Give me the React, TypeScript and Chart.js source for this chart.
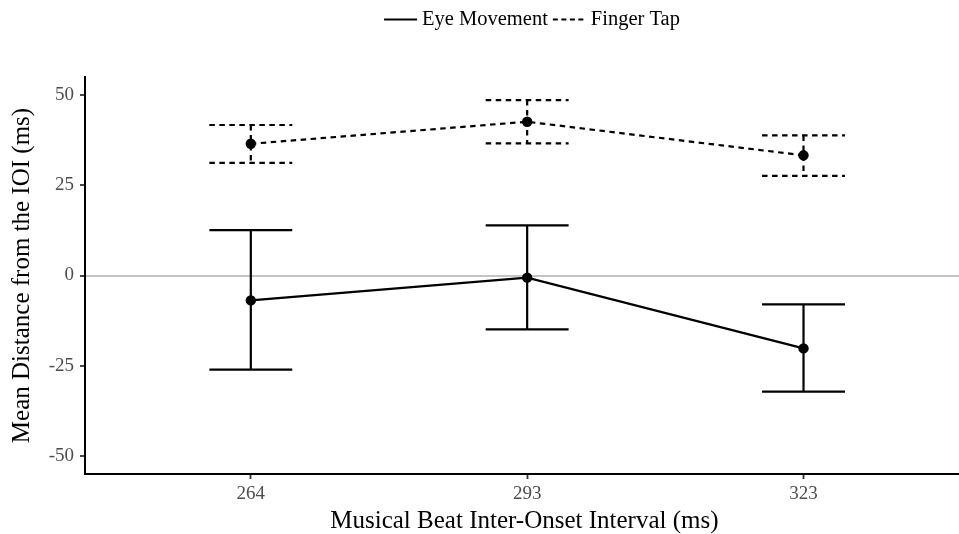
import React, { useEffect, useRef } from 'react';
import { Chart, registerables } from 'chart.js';

Chart.register(...registerables);

const categories = ['264', '293', '323'];
const seriesNames = ['Eye Movement', 'Finger Tap'];
const eyeMean = [-6.9, -0.6, -20.2];
const eyeLower = [-26.1, -14.9, -32.2];
const eyeUpper = [12.6, 13.9, -8.0];
const tapMean = [36.5, 42.6, 33.3];
const tapLower = [31.2, 36.6, 27.6];
const tapUpper = [41.7, 48.6, 38.8];
const yTicks = [-50, -25, 0, 25, 50];

const FONT = '"Liberation Serif", "Times New Roman", serif';
const DASH = [5.5, 4.5];
const lowers = [eyeLower, tapLower];
const uppers = [eyeUpper, tapUpper];
const dashes = [[], DASH];

const errorBarPlugin = {
  id: 'errorBars',
  beforeDatasetsDraw(chart: any) {
    const { ctx, scales } = chart;
    const xs = scales.x;
    const ys = scales.y;
    const half = 0.15;
    chart.data.datasets.forEach((ds: any, di: number) => {
      ctx.save();
      ctx.strokeStyle = '#000';
      ctx.lineWidth = 2.2;
      ctx.setLineDash(dashes[di]);
      lowers[di].forEach((lo: number, i: number) => {
        const hi = uppers[di][i];
        const x = xs.getPixelForValue(i);
        const xl = xs.getPixelForValue(i - half);
        const xr = xs.getPixelForValue(i + half);
        const yl = ys.getPixelForValue(lo);
        const yh = ys.getPixelForValue(hi);
        ctx.beginPath();
        ctx.moveTo(x, yh);
        ctx.lineTo(x, yl);
        ctx.moveTo(xl, yh);
        ctx.lineTo(xr, yh);
        ctx.moveTo(xl, yl);
        ctx.lineTo(xr, yl);
        ctx.stroke();
      });
      ctx.restore();
    });
  },
};

const legendPlugin = {
  id: 'customLegend',
  afterDraw(chart: any) {
    const { ctx } = chart;
    const centerX = 532;
    const y = 19.5;
    const sample = 33;
    const gap = 5;
    const spacing = 5;
    ctx.save();
    ctx.font = `20.5px ${FONT}`;
    const widths = chart.data.datasets.map((d: any) => ctx.measureText(d.label).width);
    let total = 0;
    widths.forEach((w: number, i: number) => {
      total += sample + gap + w + (i < widths.length - 1 ? spacing : 0);
    });
    let x = centerX - total / 2;
    chart.data.datasets.forEach((d: any, i: number) => {
      ctx.strokeStyle = '#000';
      ctx.lineWidth = 2.2;
      ctx.setLineDash(d.borderDash && d.borderDash.length ? [5, 3.5] : []);
      ctx.beginPath();
      ctx.moveTo(x, y);
      ctx.lineTo(x + sample, y);
      ctx.stroke();
      ctx.setLineDash([]);
      x += sample + gap;
      ctx.fillStyle = '#000';
      ctx.textAlign = 'left';
      ctx.textBaseline = 'middle';
      ctx.fillText(d.label, x, y);
      x += widths[i] + spacing;
    });
    ctx.restore();
  },
};

export default function App() {
  const ref = useRef<HTMLCanvasElement | null>(null);
  useEffect(() => {
    document.body.style.margin = '0';
    const canvas = ref.current;
    if (!canvas) return;
    Chart.defaults.font.family = FONT;
    const toPts = (arr: number[]) => arr.map((v, i) => ({ x: i, y: v }));
    const chart = new Chart(canvas, {
      type: 'line',
      data: {
        datasets: [
          {
            label: seriesNames[0],
            data: toPts(eyeMean),
            borderColor: '#000',
            backgroundColor: '#000',
            borderWidth: 2.2,
            pointRadius: 5.2,
            pointBorderWidth: 0,
            pointBackgroundColor: '#000',
            borderDash: [],
            tension: 0,
          },
          {
            label: seriesNames[1],
            data: toPts(tapMean),
            borderColor: '#000',
            backgroundColor: '#000',
            borderWidth: 2.2,
            pointRadius: 5.2,
            pointBorderWidth: 0,
            pointBackgroundColor: '#000',
            borderDash: DASH,
            tension: 0,
          },
        ],
      },
      options: {
        responsive: false,
        animation: false,
        layout: { padding: { top: 77, left: 0, right: 0, bottom: 0 } },
        plugins: {
          legend: { display: false },
          tooltip: { enabled: false },
        },
        scales: {
          x: {
            type: 'linear',
            min: -0.6,
            max: 2.58,
            afterBuildTicks: (s: any) => {
              s.ticks = categories.map((_, i) => ({ value: i }));
            },
            afterFit: (s: any) => {
              s.height = 60;
            },
            ticks: {
              callback: (v: any) => categories[v as number],
              color: '#4d4d4d',
              font: { size: 19 },
              padding: 4,
              maxRotation: 0,
              autoSkip: false,
            },
            grid: {
              drawOnChartArea: false,
              tickColor: '#333',
              tickLength: 5,
              tickWidth: 1.8,
            },
            border: { color: '#000', width: 2 },
            title: {
              display: true,
              text: 'Musical Beat Inter-Onset Interval (ms)',
              color: '#000',
              font: { size: 25, lineHeight: 1 },
              padding: { top: 0, bottom: 0 },
            },
          },
          y: {
            type: 'linear',
            min: -55,
            max: 55,
            afterBuildTicks: (s: any) => {
              s.ticks = yTicks.map((v) => ({ value: v }));
            },
            afterFit: (s: any) => {
              s.width = 85;
            },
            ticks: {
              color: '#4d4d4d',
              font: { size: 19 },
              padding: 6,
            },
            grid: {
              drawOnChartArea: true,
              color: (c: any) => (c.tick && c.tick.value === 0 ? '#c4c4c4' : 'rgba(0,0,0,0)'),
              lineWidth: 2,
              tickColor: '#333',
              tickLength: 5,
              tickWidth: 1.8,
            },
            border: { color: '#000', width: 2 },
            title: {
              display: true,
              text: 'Mean Distance from the IOI (ms)',
              color: '#000',
              font: { size: 25, lineHeight: 1 },
              padding: { top: 10, bottom: 0 },
            },
          },
        },
      } as any,
      plugins: [errorBarPlugin, legendPlugin],
    });
    return () => chart.destroy();
  }, []);

  return (
    <div style={{ position: 'absolute', left: 0, top: 0, width: 959, height: 534, overflow: 'hidden', background: '#fff' }}>
      <canvas ref={ref} width={969} height={534} style={{ display: 'block' }} />
    </div>
  );
}
